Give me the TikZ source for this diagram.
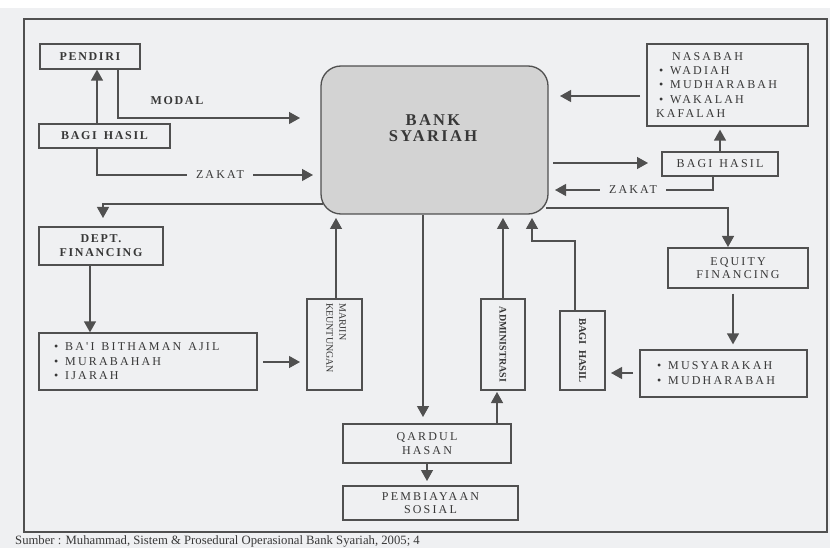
\documentclass[tikz,border=0pt]{standalone}
\usepackage{fontspec}
\setmainfont{Liberation Serif}
\newfontfamily\rs[LetterSpace=18]{Liberation Serif}
\newfontfamily\bs[LetterSpace=14]{Liberation Serif}
\usetikzlibrary{arrows.meta,backgrounds}
\definecolor{bg}{HTML}{EFF0F2}
\definecolor{lncol}{HTML}{505050}
\definecolor{tx}{HTML}{383838}
\definecolor{bankfill}{HTML}{D3D3D3}
\newcommand{\blt}{\hspace*{3pt}•\hspace{7pt}}
\newcommand{\wsp}{\hspace{7pt}}
\begin{document}
\begin{tikzpicture}[x=1pt,y=-1pt,
  box/.style={draw=lncol, line width=1.3pt, fill=bg, rectangle, inner sep=0pt, text=tx, align=center},
  regtxt/.style={font=\rs\fontsize{12}{13.5}\selectfont},
  boldtxt/.style={font=\bs\bfseries\fontsize{12}{14}\selectfont},
  conn/.style={draw=lncol, line width=1.3pt},
  arr/.style={draw=lncol, line width=1.3pt, -{Triangle[length=11pt,width=12pt]}},
  lbl/.style={fill=bg, text=tx, inner xsep=9pt, inner ysep=2pt}
]
\useasboundingbox (0,0) rectangle (830,548);

% nodes
\node[box, boldtxt, minimum width=100, minimum height=25] (pendiri) at (90,56.5) {PENDIRI};
\node[box, boldtxt, minimum width=131, minimum height=24] (bhL) at (104.5,136) {BAGI\wsp HASIL};
\node[box, fill=bankfill, rounded corners=20pt, minimum width=227, minimum height=148] (bank) at (434.5,140) {};
\node[text=tx, align=center, font=\bs\bfseries\fontsize{16.5}{16}\selectfont] (banktext) at (433,128) {BANK\\SYARIAH};
\node[box, regtxt, font=\rs\fontsize{12}{14.3}\selectfont, minimum width=161, minimum height=82, text width=143, align=left] (nasabah) at (727.5,85)
  {\hspace*{16pt}NASABAH\\ \blt WADIAH\\ \blt MUDHARABAH\\ \blt WAKALAH\\ KAFALAH};
\node[box, regtxt, minimum width=116, minimum height=24] (bhR) at (720,164) {BAGI\wsp HASIL};
\node[box, boldtxt, minimum width=124, minimum height=38] (dept) at (101,246) {DEPT.\\FINANCING};
\node[box, regtxt, font=\rs\fontsize{12}{14.5}\selectfont, minimum width=218, minimum height=57, text width=194, align=left] (bai) at (148,361.5)
  {\blt BA'I\wsp BITHAMAN\wsp AJIL\\ \blt MURABAHAH\\ \blt IJARAH};
\node[box, minimum width=55, minimum height=91] (marjin) at (334.5,344.5) {};
\node[text=tx, anchor=north, inner sep=0pt, font=\fontsize{10}{13}\selectfont] (marjintext) at (335.5,303)
  {\rotatebox{-90}{\begin{tabular}{@{}l@{}}MARJIN\\KEUNTUNGAN\end{tabular}}};
\node[box, minimum width=44, minimum height=91, font=\bfseries\fontsize{10}{12}\selectfont] (admin) at (503,344.5) {\rotatebox{-90}{ADMINISTRASI}};
\node[box, minimum width=45, minimum height=79, font=\bfseries\fontsize{10.5}{12}\selectfont] (bhV) at (582.5,350.5) {\rotatebox{-90}{BAGI\ \ HASIL}};
\node[box, regtxt, minimum width=140, minimum height=40] (equity) at (738,268) {EQUITY\\FINANCING};
\node[box, regtxt, font=\rs\fontsize{12}{15}\selectfont, minimum width=167, minimum height=47, text width=139, align=left] (musy) at (723.5,373.5)
  {\blt MUSYARAKAH\\ \blt MUDHARABAH};
\node[box, regtxt, minimum width=168, minimum height=39] (qardul) at (427,443.5) {QARDUL\\HASAN};
\node[box, regtxt, minimum width=175, minimum height=34] (pemb) at (430.5,503) {PEMBIAYAAN\\SOSIAL};

% labels
\node[boldtxt, text=tx, inner sep=0pt] (modal) at (177,101) {MODAL};
\node[lbl, regtxt] (zkL) at (220,175) {ZAKAT};
\node[lbl, regtxt] (zkR) at (633,190) {ZAKAT};

% free ends
\coordinate (modalEnd) at (300,118);
\coordinate (zkLEnd) at (313,175);
\coordinate (nasOut) at (640,96);
\coordinate (bankIn1) at (560,96);
\coordinate (bankOut1) at (553,163);
\coordinate (bhRIn) at (648,163);
\coordinate (zkREnd) at (555,190);
\coordinate (bankDL) at (323,204);
\coordinate (deptIn) at (103,218);
\coordinate (bankDR) at (546,208);
\coordinate (eqIn) at (728,247);
\coordinate (baiOut) at (263,362);
\coordinate (marjinIn) at (300,362);
\coordinate (bankB1) at (336,218);
\coordinate (qardulIn) at (423,417);
\coordinate (pembIn) at (427,481);
\coordinate (adminIn) at (497,392);
\coordinate (bankB2) at (503,218);
\coordinate (bhVbend) at (575,241);
\coordinate (bhVbend2) at (532,241);
\coordinate (bankB3) at (532,218);
\coordinate (musyOut) at (633,373);
\coordinate (bhVIn) at (611,373);

\begin{scope}[on background layer]
\fill[bg] (0,8) rectangle (830,548);
\draw[lncol, line width=1.5pt] (24,19) rectangle (827,532);
\draw[arr] (97,0 |- bhL.north) -- (97,0 |- pendiri.south);
\draw[arr] (118,0 |- pendiri.south) |- (modalEnd);
\draw[conn] (97,0 |- bhL.south) |- (zkL.west);
\draw[arr] (zkL.east) -- (zkLEnd);
\draw[arr] (nasOut) -- (bankIn1);
\draw[arr] (bankOut1) -- (bhRIn);
\draw[arr, shorten >=3pt] (720,0 |- bhR.north) -- (720,0 |- nasabah.south);
\draw[conn] (713,0 |- bhR.south) |- (zkR.east);
\draw[arr] (zkR.west) -- (zkREnd);
\draw[arr] (bankDL) -| (deptIn);
\draw[arr] (bankDR) -| (eqIn);
\draw[arr] (90,0 |- dept.south) -- (90,0 |- bai.north);
\draw[arr] (baiOut) -- (marjinIn);
\draw[arr] (336,0 |- marjin.north) -- (bankB1);
\draw[arr] (423,0 |- bank.south) -- (qardulIn);
\draw[arr] (427,0 |- qardul.south) -- (pembIn);
\draw[arr] (497,0 |- qardul.north) -- (adminIn);
\draw[arr] (503,0 |- admin.north) -- (bankB2);
\draw[arr] (575,0 |- bhV.north) -- (bhVbend) -- (bhVbend2) -- (bankB3);
\draw[arr, shorten <=5pt, shorten >=5pt] (733,0 |- equity.south) -- (733,0 |- musy.north);
\draw[arr] (musyOut) -- (bhVIn);
\end{scope}

\node[anchor=west, text=tx, inner sep=0pt, font=\fontsize{12.7}{15}\selectfont] (caption) at (15,541)
  {Sumber : Muhammad, Sistem \& Prosedural Operasional Bank Syariah, 2005; 4};
\end{tikzpicture}
\end{document}
